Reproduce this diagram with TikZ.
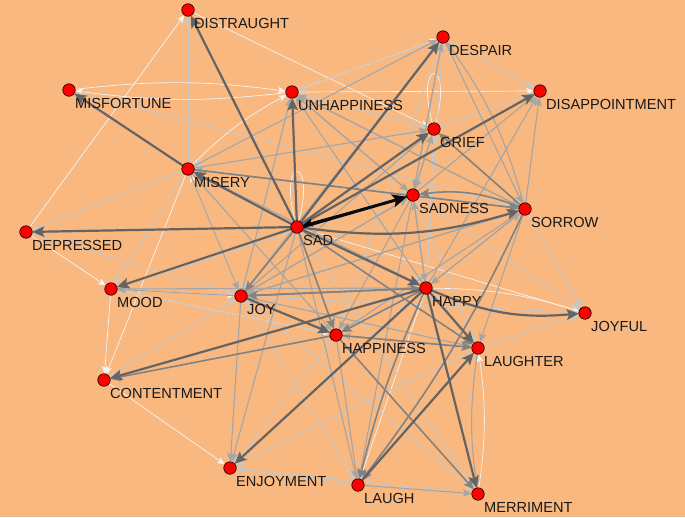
\documentclass[tikz,border=0pt]{standalone}
\usepackage{fontspec}
\setmainfont{Liberation Sans}
\usetikzlibrary{arrows.meta}
\definecolor{bgc}{RGB}{249,184,128}
\definecolor{txtc}{RGB}{25,25,25}
\definecolor{cw}{RGB}{244,244,244}
\definecolor{cl}{RGB}{200,200,200}
\definecolor{cm}{RGB}{165,165,165}
\definecolor{cg}{RGB}{130,130,130}
\definecolor{cd}{RGB}{100,100,100}
\definecolor{cb}{RGB}{10,10,10}
\pgfdeclarelayer{bgl}
\pgfdeclarelayer{edgel}
\pgfsetlayers{bgl,edgel,main}
\begin{document}
\begin{tikzpicture}[x=1pt,y=-1pt,
  v/.style={circle,fill=red,draw=black,line width=0.6pt,minimum size=12.5pt,inner sep=0pt,outer sep=0pt},
  lbl/.style={anchor=base west,inner sep=0pt,font=\fontsize{14.6}{16}\selectfont,text=txtc},
  ar/.style={-{Stealth[length=5.5pt 3,width=4.5pt 2.8,inset=1.2pt 0.6]}},
  ew/.style={ar,draw=cw,line width=0.7pt},
  el/.style={ar,draw=cl,line width=0.9pt},
  em/.style={ar,draw=cm,line width=1.1pt},
  eg/.style={ar,draw=cg,line width=1.6pt},
  ed/.style={ar,draw=cd,line width=2.2pt},
  eb/.style={ar,draw=cb,line width=3pt},
  ebt/.style={ar,draw=cb,line width=1.3pt},
  loopw/.style={draw=cw,line width=0.7pt}
]
\begin{pgfonlayer}{bgl}
\fill[bgc] (0,0) rectangle (685,517);
\end{pgfonlayer}
\useasboundingbox (0,0) rectangle (685,517);

% nodes
\node[v] (DISTRAUGHT) at (188,10) {};
\node[v] (MISFORTUNE) at (69,90) {};
\node[v] (UNHAPPINESS) at (292,92) {};
\node[v] (DESPAIR) at (443,37) {};
\node[v] (DISAPPOINTMENT) at (540,91) {};
\node[v] (GRIEF) at (434,129) {};
\node[v] (MISERY) at (188,169) {};
\node[v] (SADNESS) at (413,195) {};
\node[v] (SORROW) at (525,209) {};
\node[v] (SAD) at (297,227) {};
\node[v] (DEPRESSED) at (26,232) {};
\node[v] (MOOD) at (111,289) {};
\node[v] (JOY) at (241,296) {};
\node[v] (HAPPY) at (426,288) {};
\node[v] (JOYFUL) at (585,313) {};
\node[v] (HAPPINESS) at (336,335) {};
\node[v] (LAUGHTER) at (478,348) {};
\node[v] (CONTENTMENT) at (104,380) {};
\node[v] (ENJOYMENT) at (230,468) {};
\node[v] (LAUGH) at (358,485) {};
\node[v] (MERRIMENT) at (478,494) {};

% labels
\foreach \n in {DISTRAUGHT,MISFORTUNE,UNHAPPINESS,DESPAIR,DISAPPOINTMENT,GRIEF,MISERY,SADNESS,SORROW,SAD,DEPRESSED,MOOD,JOY,HAPPY,JOYFUL,HAPPINESS,LAUGHTER,CONTENTMENT,ENJOYMENT,LAUGH,MERRIMENT}
  \node[lbl] (t\n) at ([shift={(6,18)}]\n.center) {\n};

\begin{pgfonlayer}{edgel}
% white edges
\draw[ew] (CONTENTMENT) -- (ENJOYMENT);
\draw[ew] (MOOD) -- (CONTENTMENT);
\draw[ew] (DEPRESSED) -- (DISTRAUGHT);
\draw[ew] (MISFORTUNE) to[bend left=7] (UNHAPPINESS);
\draw[ew] (UNHAPPINESS) to[bend left=7] (MISFORTUNE);
\draw[ew] (DISTRAUGHT) -- (GRIEF);
\draw[ew] (UNHAPPINESS) -- (DISAPPOINTMENT);
\draw[ew] (UNHAPPINESS) -- (DESPAIR);
\draw[ew] (MERRIMENT) to[bend right=8] (LAUGHTER);
\draw[ew] (HAPPY) to[bend left=8] (JOYFUL);
\draw[ew] (MISERY) -- (CONTENTMENT);
\draw[ew] (DEPRESSED) -- (MOOD);
\draw[ew] (MISERY) to[bend left=8] (UNHAPPINESS);
\draw[ew] (MOOD) -- (HAPPINESS);
\draw[ew] (MOOD) -- (JOY);
\draw[ew] (JOY) -- (MISERY);
\draw[ew] (SAD) -- (JOYFUL);
\draw[ew] (HAPPY) -- (LAUGH);
\draw[loopw] (SAD) .. controls +(-20,-72) and +(20,-72) .. (SAD);
\draw[loopw] (GRIEF) .. controls +(-20,-72) and +(20,-72) .. (GRIEF);
% light edges
\draw[el] (LAUGH) -- (ENJOYMENT);
\draw[el] (MISERY) -- (DISTRAUGHT);
\draw[el] (MISFORTUNE) -- (SORROW);
\draw[el] (DESPAIR) -- (DISAPPOINTMENT);
\draw[el] (JOY) -- (JOYFUL);
\draw[el] (JOY) -- (LAUGH);
\draw[el] (HAPPY) -- (GRIEF);
\draw[el] (HAPPY) -- (DESPAIR);
\draw[el] (UNHAPPINESS) -- (GRIEF);
\draw[el] (UNHAPPINESS) -- (HAPPY);
\draw[el] (UNHAPPINESS) -- (JOY);
\draw[el] (SORROW) -- (JOYFUL);
\draw[el] (SADNESS) -- (LAUGHTER);
\draw[el] (SADNESS) -- (MOOD);
\draw[el] (GRIEF) -- (MISERY);
\draw[el] (GRIEF) -- (UNHAPPINESS);
\draw[el] (GRIEF) -- (SORROW);
\draw[el] (DESPAIR) -- (UNHAPPINESS);
\draw[el] (DESPAIR) -- (MISERY);
\draw[el] (LAUGHTER) -- (JOYFUL);
\draw[el] (LAUGHTER) -- (HAPPY);
\draw[el] (LAUGHTER) -- (ENJOYMENT);
\draw[el] (HAPPINESS) -- (ENJOYMENT);
\draw[el] (HAPPINESS) -- (MOOD);
\draw[el] (MISERY) -- (MOOD);
\draw[el] (MISERY) -- (DEPRESSED);
\draw[el] (DEPRESSED) -- (JOY);
\draw[el] (CONTENTMENT) -- (JOY);
\draw[el] (MOOD) -- (HAPPY);
\draw[el] (ENJOYMENT) -- (MERRIMENT);
\draw[el] (SADNESS) -- (JOYFUL);
\draw[el] (LAUGHTER) -- (JOY);
\draw[el] (HAPPINESS) -- (DESPAIR);
\draw[el] (JOY) -- (MERRIMENT);
\draw[el] (SAD) -- (MERRIMENT);
\draw[el] (GRIEF) -- (DISAPPOINTMENT);
\draw[el] (MISERY) -- (SADNESS);
% medium edges
\draw[em] (JOY) -- (ENJOYMENT);
\draw[em] (LAUGHTER) to[bend right=8] (MERRIMENT);
\draw[em] (LAUGH) -- (MERRIMENT);
\draw[em] (SORROW) to[bend right=10] (DESPAIR);
\draw[em] (SORROW) -- (DISAPPOINTMENT);
\draw[em] (SADNESS) -- (DISAPPOINTMENT);
\draw[em] (SADNESS) -- (DESPAIR);
\draw[em] (SADNESS) -- (GRIEF);
\draw[em] (HAPPY) -- (DISAPPOINTMENT);
\draw[em] (MISERY) -- (DESPAIR);
\draw[em] (MISERY) -- (GRIEF);
\draw[em] (MISERY) -- (HAPPINESS);
\draw[em] (MISERY) -- (HAPPY);
\draw[em] (JOY) -- (MOOD);
\draw[em] (HAPPY) -- (MOOD);
\draw[em] (JOY) -- (UNHAPPINESS);
\draw[em] (JOY) -- (SADNESS);
\draw[em] (JOY) -- (SORROW);
\draw[em] (JOY) -- (DESPAIR);
\draw[em] (JOY) -- (GRIEF);
\draw[em] (JOY) -- (LAUGHTER);
\draw[em] (HAPPY) -- (UNHAPPINESS);
\draw[em] (HAPPY) -- (SADNESS);
\draw[em] (HAPPY) -- (SORROW);
\draw[em] (UNHAPPINESS) -- (SADNESS);
\draw[em] (UNHAPPINESS) -- (SORROW);
\draw[em] (SORROW) -- (UNHAPPINESS);
\draw[em] (SORROW) -- (MISERY);
\draw[em] (SORROW) -- (HAPPY);
\draw[em] (SORROW) -- (LAUGHTER);
\draw[em] (SORROW) -- (HAPPINESS);
\draw[em] (SADNESS) -- (UNHAPPINESS);
\draw[em] (SADNESS) -- (HAPPY);
\draw[em] (SADNESS) -- (HAPPINESS);
\draw[em] (GRIEF) -- (SADNESS);
\draw[em] (DESPAIR) -- (SADNESS);
\draw[em] (DESPAIR) -- (SORROW);
\draw[em] (LAUGHTER) -- (HAPPINESS);
\draw[em] (HAPPINESS) -- (LAUGH);
\draw[em] (HAPPINESS) -- (JOY);
\draw[em] (SADNESS) -- (JOY);
\draw[em] (SORROW) -- (JOY);
\draw[em] (LAUGHTER) -- (LAUGH);
\draw[em] (SAD) -- (ENJOYMENT);
\draw[em] (SADNESS) -- (LAUGH);
\draw[em] (MISERY) -- (JOY);
\draw[em] (SAD) -- (LAUGH);
% gray edges
\draw[eg] (SORROW) to[bend right=14] (SADNESS);
\draw[eg] (SAD) -- (LAUGHTER);
\draw[eg] (HAPPINESS) -- (CONTENTMENT);
\draw[eg] (HAPPY) to[bend right=5] (LAUGH);
\draw[eg] (JOY) -- (HAPPY);
\draw[eg] (HAPPINESS) -- (LAUGHTER);
\draw[eg] (HAPPINESS) -- (MERRIMENT);
\draw[eg] (SORROW) -- (GRIEF);
\draw[eg] (MISERY) -- (SORROW);
\draw[eg] (HAPPY) -- (JOY);
\draw[eg] (HAPPY) -- (HAPPINESS);
\draw[eg] (SORROW) to[bend left=6] (LAUGH);
\draw[eg] (SAD) -- (HAPPINESS);
\draw[eg] (SAD) -- (JOY);
% dark edges
\draw[ed] (SAD) -- (DISTRAUGHT);
\draw[ed] (MISERY) -- (MISFORTUNE);
\draw[ed] (SAD) -- (MISERY);
\draw[ed] (SAD) -- (DEPRESSED);
\draw[ed] (SAD) -- (UNHAPPINESS);
\draw[ed] (SAD) -- (DESPAIR);
\draw[ed] (SAD) -- (GRIEF);
\draw[ed] (SAD) -- (DISAPPOINTMENT);
\draw[ed] (SAD) to[bend right=12] (SORROW);
\draw[ed] (SAD) -- (MOOD);
\draw[ed] (SAD) -- (HAPPY);
\draw[ed] (HAPPY) -- (CONTENTMENT);
\draw[ed] (HAPPY) -- (ENJOYMENT);
\draw[ed] (HAPPY) to[bend right=14] (JOYFUL);
\draw[ed] (HAPPY) -- (LAUGHTER);
\draw[ed] (HAPPY) -- (MERRIMENT);
\draw[ed] (LAUGH) -- (LAUGHTER);
\draw[ed] (JOY) -- (HAPPINESS);
% black edges
\draw[eb] ([yshift=-1.5]SAD.center) -- (SADNESS);
\draw[ebt] (SADNESS) -- ([yshift=2]SAD.east);
\end{pgfonlayer}
\end{tikzpicture}
\end{document}
